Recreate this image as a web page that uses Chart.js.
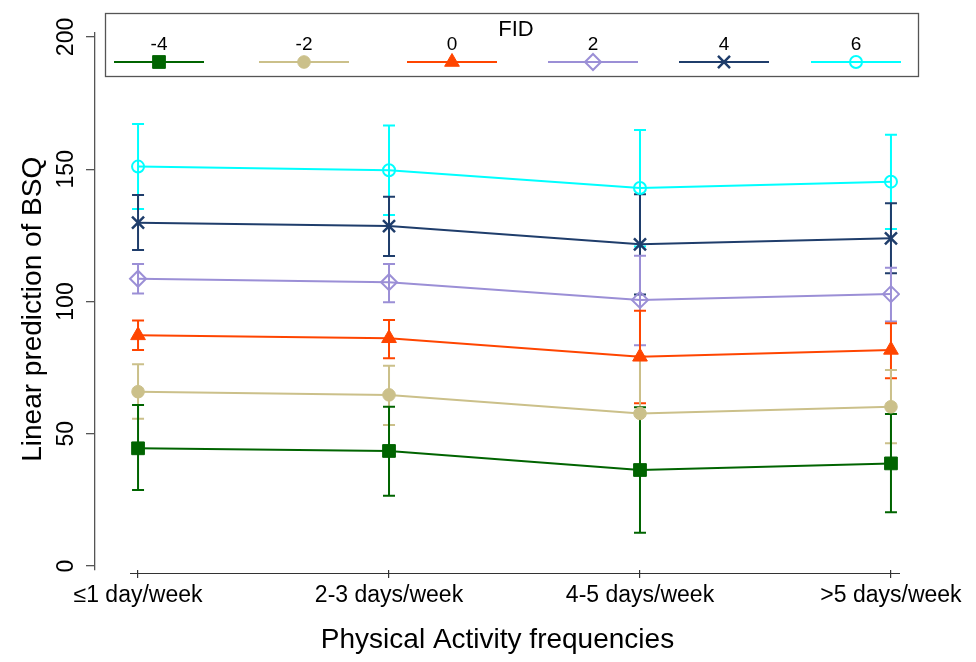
<!DOCTYPE html>
<html>
<head>
<meta charset="utf-8">
<script src="https://cdn.jsdelivr.net/npm/chart.js"></script>
<style>
  html, body { margin: 0; padding: 0; background: #ffffff; }
  #wrap { width: 976px; height: 662px; position: relative; }
</style>
</head>
<body>
<div id="wrap"><canvas id="c" width="976" height="662"></canvas></div>
<script>
// ---- data ----
const categories = ['≤1 day/week', '2-3 days/week', '4-5 days/week', '>5 days/week'];
const fidLevels = ['-4', '-2', '0', '2', '4', '6'];
const yTicks = [0, 50, 100, 150, 200];

const meanFidM4 = [44.5, 43.5, 36.3, 38.8];
const meanFidM2 = [65.9, 64.7, 57.7, 60.2];
const meanFid0  = [87.2, 86.1, 79.1, 81.7];
const meanFid2  = [108.6, 107.3, 100.6, 102.8];
const meanFid4  = [129.8, 128.5, 121.6, 123.9];
const meanFid6  = [151.0, 149.6, 142.9, 145.3];

const loFidM4 = [28.7, 26.6, 12.6, 20.3];
const hiFidM4 = [60.9, 60.2, 60.0, 57.5];
const loFidM2 = [55.7, 53.3, 36.2, 46.4];
const hiFidM2 = [76.3, 75.7, 79.2, 74.1];
const loFid0  = [81.7, 78.5, 61.5, 71.0];
const hiFid0  = [92.8, 93.0, 96.5, 91.8];
const loFid2  = [103.0, 99.7, 83.5, 92.4];
const hiFid2  = [114.2, 114.2, 117.3, 112.8];
const loFid4  = [119.5, 117.2, 102.6, 110.7];
const hiFid4  = [140.3, 139.6, 140.5, 137.1];
const loFid6  = [135.0, 132.7, 120.8, 127.4];
const hiFid6  = [167.1, 166.5, 164.8, 163.0];

// ---- styles ----
const FONT = '"Liberation Sans", Arial, Helvetica, sans-serif';
const seriesStyle = [
  { color: '#006400', style: 'rect',     radius: 9,   fill: true,  bw: 1 },
  { color: '#cbc08a', style: 'circle',   radius: 6.3, fill: true,  bw: 1 },
  { color: '#ff4500', style: 'triangle', radius: 8.5, fill: true,  bw: 1 },
  { color: '#9b8fd6', style: 'rectRot',  radius: 8,   fill: false, bw: 2 },
  { color: '#1f3d6b', style: 'crossRot', radius: 8.5, fill: false, bw: 2.5 },
  { color: '#00ffff', style: 'circle',   radius: 6,   fill: false, bw: 2 }
];
const means = [meanFidM4, meanFidM2, meanFid0, meanFid2, meanFid4, meanFid6];
const lows  = [loFidM4, loFidM2, loFid0, loFid2, loFid4, loFid6];
const highs = [hiFidM4, hiFidM2, hiFid0, hiFid2, hiFid4, hiFid6];

const datasets = fidLevels.map((lvl, i) => ({
  label: lvl,
  data: means[i].map((v, j) => ({ x: j, y: v })),
  borderColor: seriesStyle[i].color,
  backgroundColor: seriesStyle[i].fill ? seriesStyle[i].color : 'rgba(0,0,0,0)',
  pointStyle: seriesStyle[i].style,
  pointRadius: seriesStyle[i].radius,
  pointHoverRadius: seriesStyle[i].radius,
  pointBorderWidth: seriesStyle[i].bw,
  pointBackgroundColor: seriesStyle[i].fill ? seriesStyle[i].color : 'rgba(0,0,0,0)',
  borderWidth: 2,
  tension: 0,
  errLow: lows[i],
  errHigh: highs[i]
}));

// error bars drawn through the chart's scales
const errorBars = {
  id: 'errorBars',
  beforeDatasetsDraw(chart) {
    const { ctx, scales: { x, y } } = chart;
    ctx.save();
    ctx.lineWidth = 2;
    ctx.lineCap = 'butt';
    for (let i = chart.data.datasets.length - 1; i >= 0; i--) {
      const ds = chart.data.datasets[i];
      ctx.strokeStyle = ds.borderColor;
      ds.data.forEach((p, j) => {
        const px = x.getPixelForValue(p.x);
        const y1 = y.getPixelForValue(ds.errLow[j]);
        const y2 = y.getPixelForValue(ds.errHigh[j]);
        ctx.beginPath();
        ctx.moveTo(px, y1); ctx.lineTo(px, y2);
        ctx.moveTo(px - 6, y1); ctx.lineTo(px + 6, y1);
        ctx.moveTo(px - 6, y2); ctx.lineTo(px + 6, y2);
        ctx.stroke();
      });
    }
    ctx.restore();
  }
};

// separate x-axis line (Stata style, offset from plot edge)
const xAxisLine = {
  id: 'xAxisLine',
  afterDraw(chart) {
    const { ctx, scales: { x }, chartArea } = chart;
    ctx.save();
    ctx.strokeStyle = '#333333';
    ctx.lineWidth = 1.2;
    ctx.beginPath();
    const yy = chartArea.bottom + 3.5;
    ctx.moveTo(x.getPixelForValue(-0.032), yy);
    ctx.lineTo(x.getPixelForValue(3.036), yy);
    ctx.stroke();
    ctx.restore();
  }
};

function drawMarker(ctx, st, cx, cy) {
  ctx.save();
  ctx.strokeStyle = st.color;
  ctx.fillStyle = st.fill ? st.color : 'rgba(0,0,0,0)';
  ctx.lineWidth = st.bw;
  if (Chart.helpers && Chart.helpers.drawPoint) {
    Chart.helpers.drawPoint(ctx, { pointStyle: st.style, radius: st.radius, rotation: 0, borderWidth: st.bw }, cx, cy);
  }
  ctx.restore();
}

// legend box (labels above samples, like the reference)
const fidLegend = {
  id: 'fidLegend',
  afterDraw(chart) {
    const ctx = chart.ctx;
    const box = { l: 105.5, t: 13.5, r: 918.5, b: 76.5 };
    const centers = [159, 304, 452, 593, 724, 856];
    ctx.save();
    ctx.fillStyle = '#ffffff';
    ctx.fillRect(box.l, box.t, box.r - box.l, box.b - box.t);
    ctx.strokeStyle = '#555555';
    ctx.lineWidth = 1.3;
    ctx.strokeRect(box.l, box.t, box.r - box.l, box.b - box.t);
    ctx.fillStyle = '#000000';
    ctx.textAlign = 'center';
    ctx.textBaseline = 'middle';
    ctx.font = '22px ' + FONT;
    ctx.fillText('FID', 516, 30);
    ctx.font = '19px ' + FONT;
    chart.data.datasets.forEach((ds, i) => {
      const cx = centers[i];
      ctx.fillStyle = '#000000';
      ctx.fillText(ds.label, cx, 45);
      ctx.strokeStyle = seriesStyle[i].color;
      ctx.lineWidth = 2;
      ctx.beginPath();
      ctx.moveTo(cx - 45, 62); ctx.lineTo(cx + 45, 62);
      ctx.stroke();
      drawMarker(ctx, seriesStyle[i], cx, 62);
    });
    ctx.restore();
  }
};

new Chart(document.getElementById('c'), {
  type: 'line',
  data: { datasets },
  plugins: [errorBars, xAxisLine, fidLegend],
  options: {
    responsive: false,
    animation: false,
    events: [],
    layout: { padding: { top: 33, right: 76, left: 0, bottom: 0 } },
    plugins: { legend: { display: false }, tooltip: { enabled: false } },
    scales: {
      x: {
        type: 'linear',
        min: -0.1715,
        max: 3.036,
        afterBuildTicks: s => { s.ticks = categories.map((c, i) => ({ value: i })); },
        afterFit: s => { s.height = 92; },
        border: { display: false },
        grid: { drawOnChartArea: false, drawTicks: true, tickLength: 8, color: '#333333', lineWidth: 1.2 },
        ticks: {
          color: '#000000',
          font: { family: FONT, size: 23 },
          padding: 4,
          maxRotation: 0,
          minRotation: 0,
          callback: v => categories[v]
        },
        title: {
          display: true,
          text: 'Physical Activity frequencies',
          color: '#000000',
          font: { family: FONT, size: 28 },
          padding: { top: 0, bottom: 5 }
        }
      },
      y: {
        type: 'linear',
        min: -1.5,
        max: 201.5,
        afterBuildTicks: s => { s.ticks = yTicks.map(v => ({ value: v })); },
        afterFit: s => { s.width = 95; },
        border: { display: true, color: '#555555', width: 1.3 },
        grid: { drawOnChartArea: false, drawTicks: true, tickLength: 9, color: '#555555', lineWidth: 1.3 },
        ticks: {
          color: '#000000',
          font: { family: FONT, size: 23 },
          minRotation: 90,
          maxRotation: 90,
          crossAlign: 'center',
          padding: 0,
          callback: v => String(v)
        },
        title: {
          display: true,
          text: 'Linear prediction of BSQ  ',
          color: '#000000',
          font: { family: FONT, size: 28 },
          padding: { top: 16, bottom: 0 }
        }
      }
    }
  }
});
</script>
</body>
</html>
